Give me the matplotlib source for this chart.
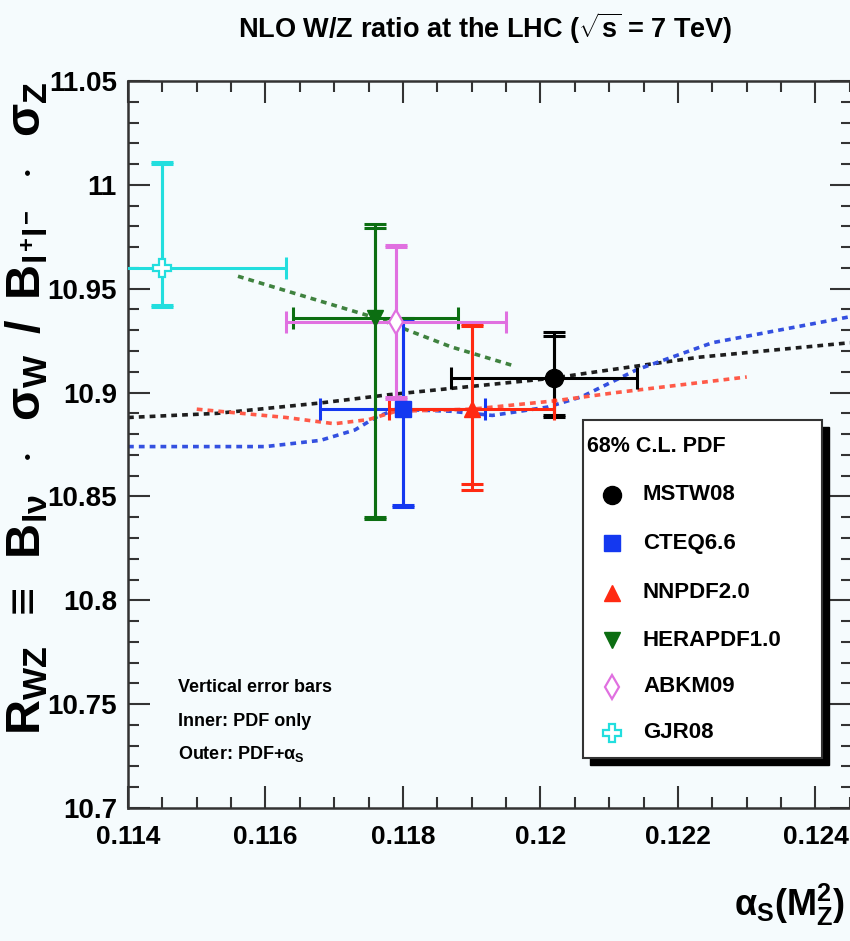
import matplotlib
matplotlib.use("Agg")
import matplotlib.pyplot as plt
from matplotlib import font_manager as fm
from matplotlib.lines import Line2D
from matplotlib.patches import Rectangle
from matplotlib.ticker import MultipleLocator, FuncFormatter

# ---------------------------------------------------------------- data
pdf_sets = ["MSTW08", "CTEQ6.6", "NNPDF2.0", "HERAPDF1.0", "ABKM09", "GJR08"]
alphas = [0.1202, 0.1180, 0.1190, 0.1176, 0.1179, 0.1145]
alphas_err_lo = [0.0015, 0.0012, 0.0012, 0.0012, 0.0016, 0.0018]
alphas_err_hi = [0.0012, 0.0012, 0.0012, 0.0012, 0.0016, 0.0018]
r_wz = [10.907, 10.892, 10.892, 10.936, 10.934, 10.960]
# inner: PDF only, outer: PDF + alpha_S (absolute band edges)
inner_lo = [10.889, 10.846, 10.856, 10.840, 10.898, 10.942]
inner_hi = [10.927, 10.935, 10.932, 10.979, 10.970, 11.010]
outer_lo = [10.888, 10.845, 10.853, 10.839, 10.897, 10.941]
outer_hi = [10.929, 10.936, 10.933, 10.981, 10.971, 11.011]

# R_WZ versus alpha_S(M_Z^2) for the sets with alpha_S series
mstw_curve_x = [0.1140, 0.1153, 0.1168, 0.1178, 0.1187, 0.1202, 0.1206, 0.1223, 0.1245]
mstw_curve_y = [10.888, 10.890, 10.895, 10.899, 10.902, 10.907, 10.909, 10.917, 10.924]
cteq_curve_x = [0.1140, 0.1160, 0.1168, 0.1173, 0.1176, 0.1179, 0.1187, 0.1193,
                0.1201, 0.1206, 0.1214, 0.1225, 0.1245]
cteq_curve_y = [10.874, 10.874, 10.877, 10.882, 10.888, 10.892, 10.891, 10.889,
                10.893, 10.898, 10.911, 10.924, 10.9365]
nnpdf_curve_x = [0.1150, 0.1163, 0.1170, 0.1175, 0.1179, 0.1190, 0.1202, 0.1211, 0.1230]
nnpdf_curve_y = [10.892, 10.888, 10.885, 10.887, 10.891, 10.892, 10.896, 10.900, 10.9075]
hera_curve_x = [0.1156, 0.1176, 0.1187, 0.1196]
hera_curve_y = [10.956, 10.936, 10.922, 10.913]

x_ticks = [0.114, 0.116, 0.118, 0.120, 0.122, 0.124]
y_ticks = [10.70, 10.75, 10.80, 10.85, 10.90, 10.95, 11.00, 11.05]

# ---------------------------------------------------------------- style
names = {f.name for f in fm.fontManager.ttflist}
FONT = "Liberation Sans Narrow" if "Liberation Sans Narrow" in names else "Liberation Sans"
plt.rcParams["font.family"] = [FONT, "DejaVu Sans"]
plt.rcParams["font.weight"] = "bold"
plt.rcParams["mathtext.fontset"] = "custom"
plt.rcParams["mathtext.rm"] = FONT + ":bold"
plt.rcParams["mathtext.it"] = FONT + ":bold"
plt.rcParams["mathtext.bf"] = FONT + ":bold"
plt.rcParams["mathtext.sf"] = FONT + ":bold"

BG = "#f5fbfd"
colors = ["#000000", "#1438f0", "#ff2a12", "#0c6e12", "#e070e0", "#22dede"]
curve_colors = {"mstw": "#1e1e1e", "cteq": "#3450e0", "nnpdf": "#ff5a48", "hera": "#3f823f"}
markers = [
    dict(marker="o", ms=13, mfc="#000000", mec="#000000"),
    dict(marker="s", ms=11, mfc="#1438f0", mec="#1438f0"),
    dict(marker="^", ms=12, mfc="#ff2a12", mec="#ff2a12"),
    dict(marker="v", ms=12, mfc="#0c6e12", mec="#0c6e12"),
    dict(marker="d", ms=12, mfc="white", mec="#e070e0", mew=1.6),
    dict(marker="P", ms=13, mfc="white", mec="#22dede", mew=1.6),
]
LW = 2.2
DASH = (1.6, 1.4)

W, H = 850, 941
fig = plt.figure(figsize=(W / 100, H / 100), dpi=100, facecolor=BG)
ax = fig.add_axes([128 / W, 1 - 808 / H, 724 / W, 727 / H], facecolor=BG)

# dashed alpha_S dependence
for cx, cy, key in [(mstw_curve_x, mstw_curve_y, "mstw"),
                    (cteq_curve_x, cteq_curve_y, "cteq"),
                    (nnpdf_curve_x, nnpdf_curve_y, "nnpdf"),
                    (hera_curve_x, hera_curve_y, "hera")]:
    ax.plot(cx, cy, color=curve_colors[key], lw=2.6, dashes=DASH, zorder=2)

# points with horizontal and vertical error bars
for i in range(len(pdf_sets)):
    c = colors[i]
    ax.errorbar([alphas[i]], [r_wz[i]], xerr=[[alphas_err_lo[i]], [alphas_err_hi[i]]],
                fmt="none", ecolor=c, elinewidth=LW, capsize=8, capthick=LW, zorder=3)
    ax.errorbar([alphas[i]], [r_wz[i]],
                yerr=[[r_wz[i] - outer_lo[i]], [outer_hi[i] - r_wz[i]]],
                fmt="none", ecolor=c, elinewidth=LW, capsize=8, capthick=LW, zorder=3)
    ax.errorbar([alphas[i]], [r_wz[i]],
                yerr=[[r_wz[i] - inner_lo[i]], [inner_hi[i] - r_wz[i]]],
                fmt="none", ecolor=c, elinewidth=LW, capsize=8, capthick=LW, zorder=3)
    ax.plot([alphas[i]], [r_wz[i]], ls="none", zorder=4, **markers[i])

ax.set_xlim(0.114, 0.114 + 724 / 68750)
ax.set_ylim(10.70, 11.05)
ax.set_xticks(x_ticks)
ax.set_yticks(y_ticks)
ax.xaxis.set_minor_locator(MultipleLocator(0.0005))
ax.yaxis.set_minor_locator(MultipleLocator(0.01))
fmt = FuncFormatter(lambda v, p: "%g" % round(v, 4))
ax.xaxis.set_major_formatter(fmt)
ax.yaxis.set_major_formatter(fmt)
ax.tick_params(which="both", direction="in", top=True, right=True, color="#333333", width=1.5)
ax.tick_params(which="major", length=16)
ax.tick_params(which="minor", length=8)
ax.tick_params(axis="x", which="major", pad=12, labelsize=19)
ax.tick_params(axis="y", which="major", pad=8, labelsize=20)
for sp in ax.spines.values():
    sp.set_linewidth(1.8)
    sp.set_color("#333333")

# titles and axis labels
fig.text(485 / W, 1 - 28 / H, r"NLO W/Z ratio at the LHC ($\sqrt{s}$ = 7 TeV)",
         ha="center", va="center", fontsize=19.5, fontweight="bold")
fig.text(27 / W, 1 - 408 / H,
         r"R$_{\rm WZ}$ $\,\equiv\,$ B$_{l\nu}$ $\,\cdot\,$ $\sigma_{\rm W}$ $\,$/$\,$ "
         r"B$_{l^{+}l^{-}}$ $\,\cdot\,$ $\sigma_{\rm Z}$",
         rotation=90, ha="center", va="center", fontsize=35, fontweight="bold")
fig.text(845 / W, 1 - 905 / H, r"$\alpha_{\rm S}$(M$_{\rm Z}^{2}$)",
         ha="right", va="center", fontsize=26, fontweight="bold")

# note on the error bars
for txt, yy in [("Vertical error bars", 688), ("Inner: PDF only", 721),
                (r"Outer: PDF+$\alpha_{\rm S}$", 754)]:
    fig.text(178 / W, 1 - yy / H, txt, ha="left", va="center", fontsize=13, fontweight="bold")

# legend box with drop shadow
lx0, ly0, lx1, ly1 = 583, 420, 822, 758
off = 7
fig.add_artist(Rectangle(((lx0 + off) / W, 1 - (ly1 + off) / H), (lx1 - lx0) / W, (ly1 - ly0) / H,
                         transform=fig.transFigure, facecolor="black", edgecolor="black", zorder=5))
fig.add_artist(Rectangle((lx0 / W, 1 - ly1 / H), (lx1 - lx0) / W, (ly1 - ly0) / H,
                         transform=fig.transFigure, facecolor="white", edgecolor="#333333",
                         lw=1.5, zorder=6))
fig.text(587 / W, 1 - 447 / H, "68% C.L. PDF", ha="left", va="center", fontsize=15.5,
         fontweight="bold", zorder=7)
entry_y = [495, 543, 593, 640, 687, 733]
for i, name in enumerate(pdf_sets):
    fig.add_artist(Line2D([612 / W], [1 - entry_y[i] / H], transform=fig.transFigure,
                          ls="none", zorder=7, **markers[i]))
    fig.text(643 / W, 1 - entry_y[i] / H, name, ha="left", va="center", fontsize=16,
             fontweight="bold", zorder=7)

fig.savefig("out.png", dpi=100, facecolor=BG)
